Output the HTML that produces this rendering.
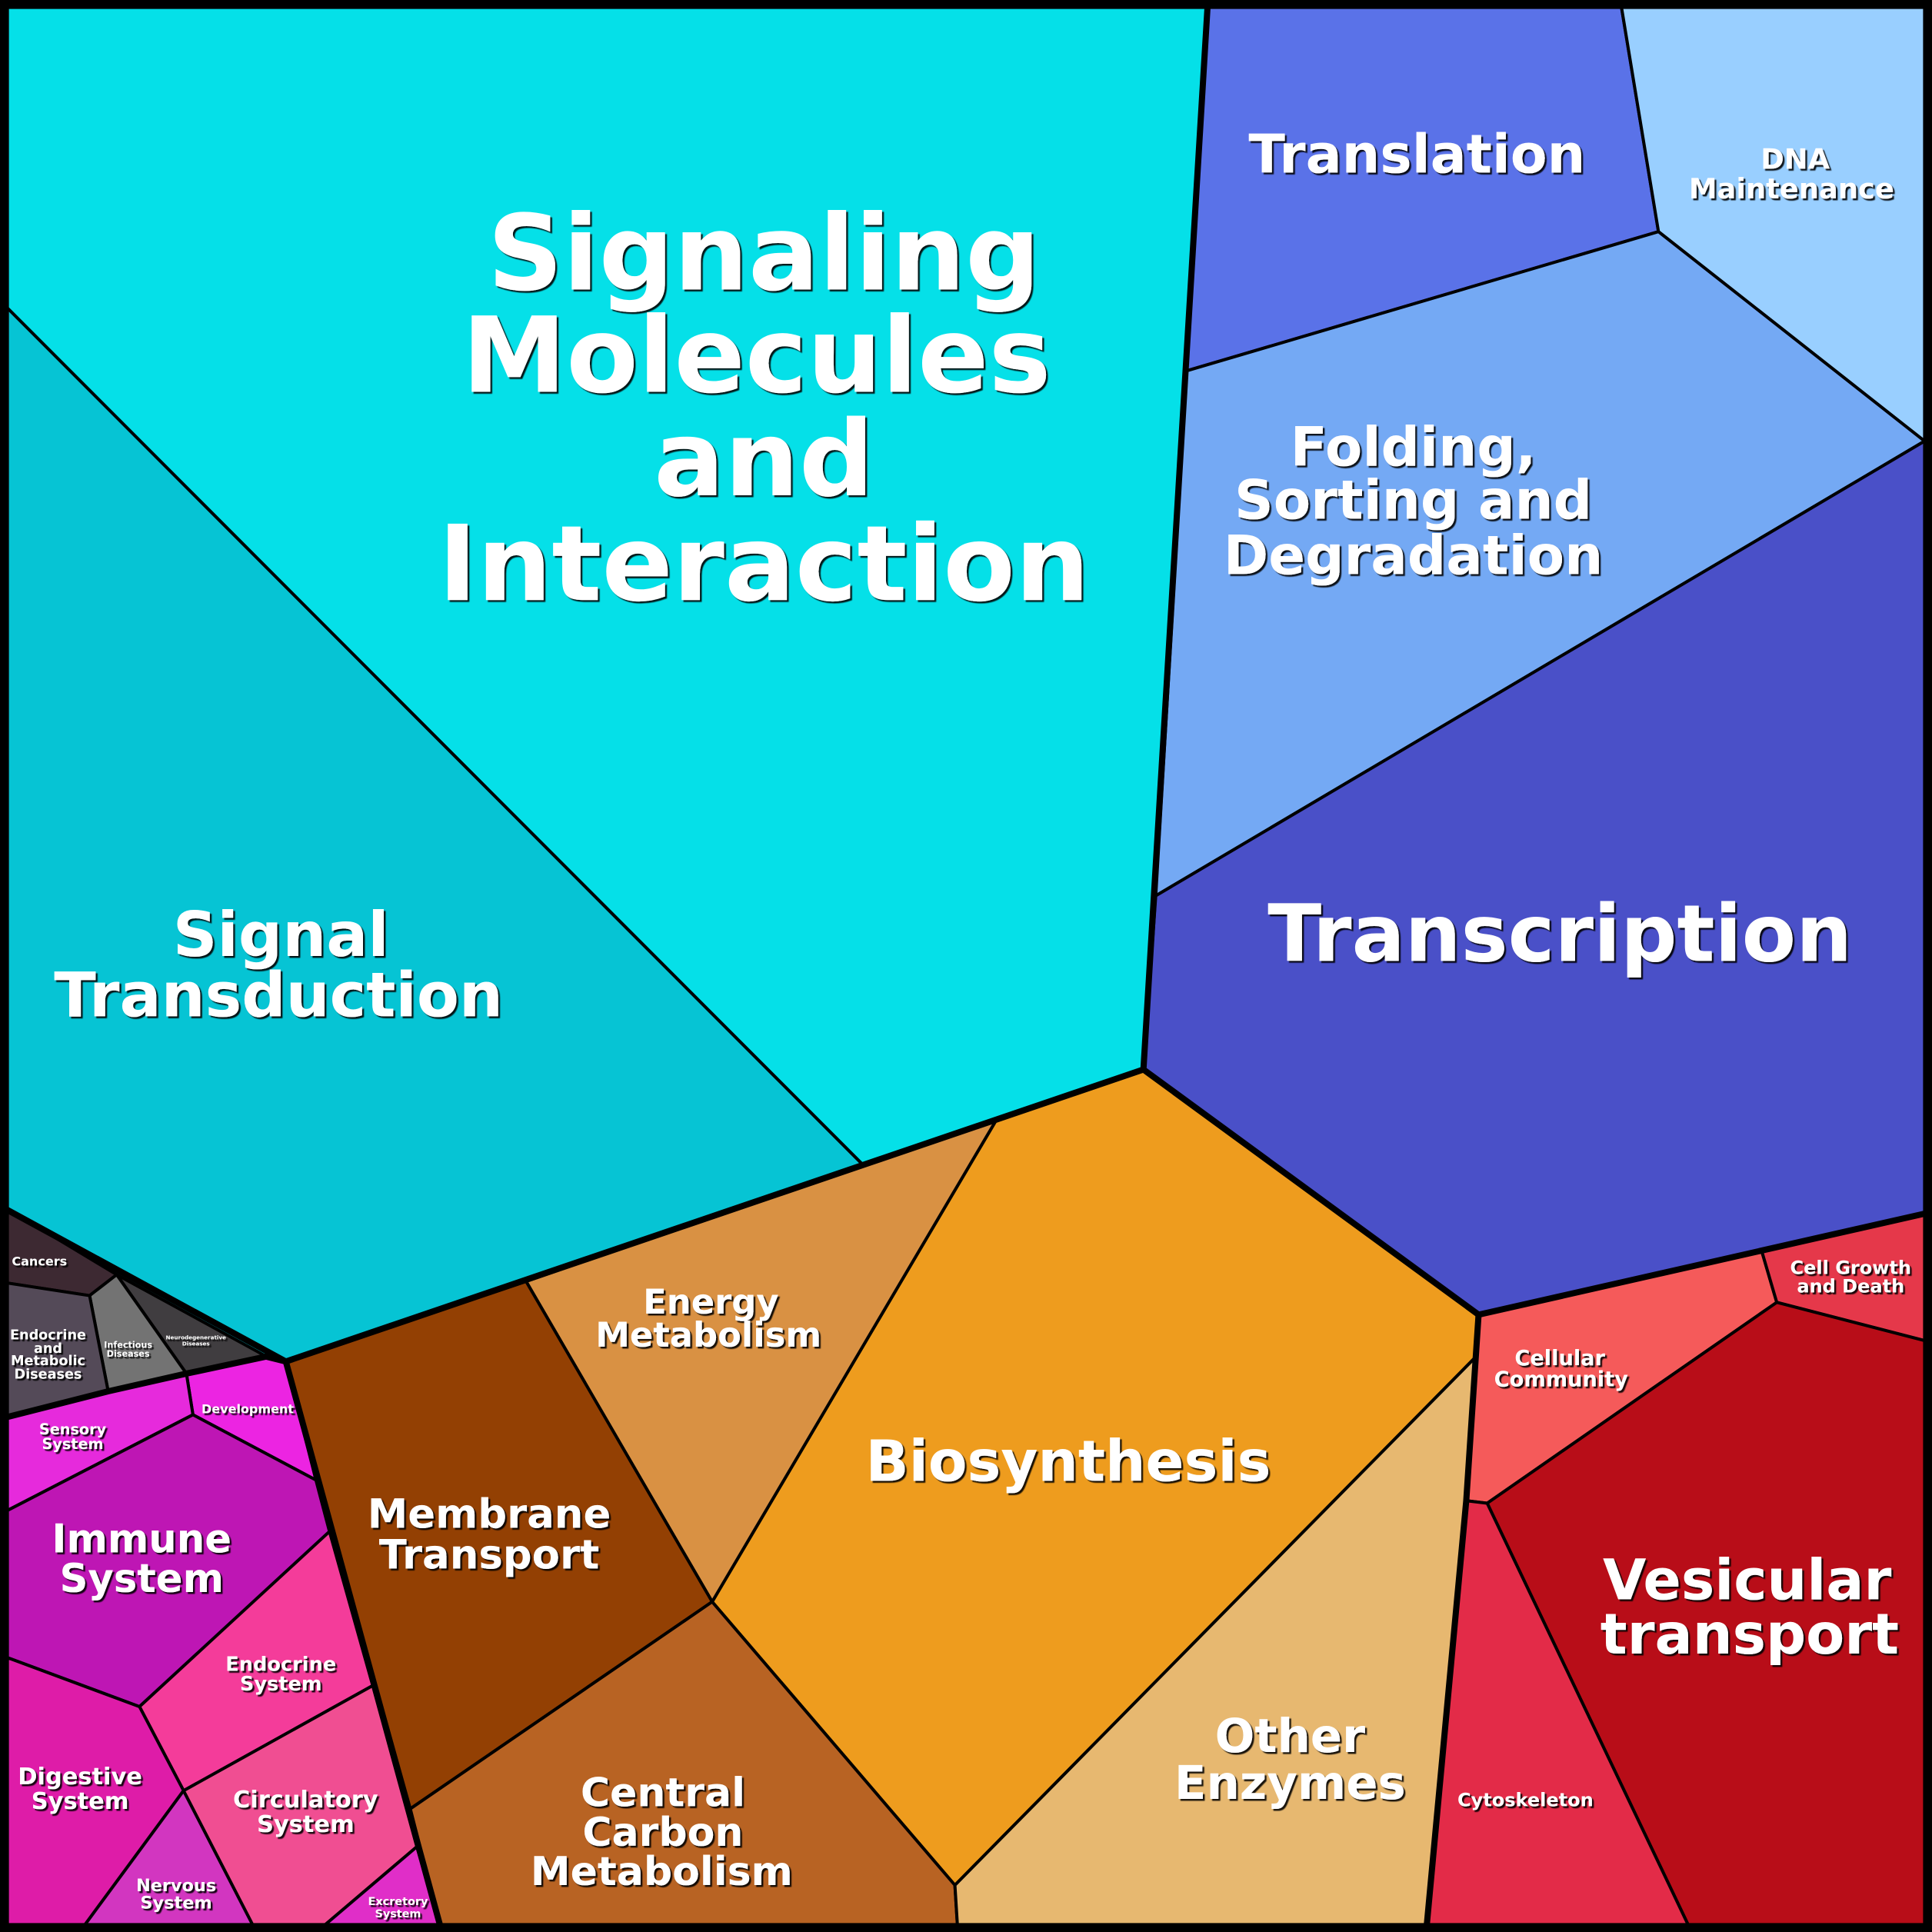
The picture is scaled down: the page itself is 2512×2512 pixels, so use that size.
<!DOCTYPE html>
<html><head><meta charset="utf-8"><style>html,body{margin:0;padding:0;background:#000}svg{display:block}text{font-family:"DejaVu Sans","Liberation Sans",sans-serif;font-weight:bold;fill:#fff;text-anchor:middle}</style></head>
<body>
<svg width="2512" height="2512" viewBox="0 0 1568 1568" xmlns="http://www.w3.org/2000/svg">
<defs><filter id="s" x="-10%" y="-10%" width="120%" height="130%"><feDropShadow dx="1.5" dy="1.5" stdDeviation="0.3" flood-color="#000" flood-opacity="0.9"/></filter></defs>
<rect width="1568" height="1568" fill="#000"/>
<g stroke="#000" stroke-width="2.5" stroke-linejoin="round">
<polygon fill="#05E0E8" points="6,6 980,6 928,868 808,910 700,945 6,250"/>
<polygon fill="#06C4D4" points="6,250 700,945 232,1105 216,1101 94.7,1034.5 6,982"/>
<polygon fill="#5A72E8" points="980,6 1316,6 1346,188 963,301"/>
<polygon fill="#99CFFF" points="1316,6 1562,6 1562,358 1346,188"/>
<polygon fill="#74A9F4" points="963,301 1346,188 1562,358 938,727"/>
<polygon fill="#4A50C8" points="938,727 1562,358 1562,985 1200,1067 928,868"/>
<polygon fill="#EE9C1E" points="928,868 1200,1067 1197,1102 775,1530 578,1300 808,910"/>
<polygon fill="#D99143" points="808,910 578,1300 427,1040 700,945"/>
<polygon fill="#934003" points="427,1040 578,1300 333,1468 258,1200 232,1105"/>
<polygon fill="#B86323" points="333,1468 578,1300 775,1530 777,1562 357,1562"/>
<polygon fill="#E7B870" points="775,1530 1197,1102 1190,1218 1158,1562 777,1562"/>
<polygon fill="#F55A5A" points="1200,1067 1430,1016 1442,1057 1207,1220 1190,1218"/>
<polygon fill="#E5384A" points="1430,1016 1562,985 1562,1088 1442,1057"/>
<polygon fill="#B80D18" points="1442,1057 1562,1088 1562,1562 1370,1562 1207,1220"/>
<polygon fill="#E32B48" points="1190,1218 1207,1220 1370,1562 1158,1562"/>
<polygon fill="#3D2932" points="6,981 94.7,1034.5 72.7,1051.5 6,1041.3"/>
<polygon fill="#403D40" points="94.7,1034.5 216,1100.8 151.3,1114.8"/>
<polygon fill="#737373" points="72.7,1051.5 94.7,1034.5 151.3,1114.8 87.8,1129.2"/>
<polygon fill="#544A58" points="6,1041.3 72.7,1051.5 87.8,1129.2 6,1150"/>
<polygon fill="#EC24E2" points="151.3,1114.8 216,1100.8 232,1104.6 256.4,1201.2 156.6,1148.2"/>
<polygon fill="#E62ADC" points="6,1150 87.8,1129.2 151.3,1114.8 156.6,1148.2 6,1225.9"/>
<polygon fill="#BE16B4" points="6,1225.9 156.6,1148.2 256.4,1201.2 267.4,1243 113.2,1385.1 6,1345.3"/>
<polygon fill="#F43C9A" points="113.2,1385.1 267.4,1243 302.5,1368 149,1453.3"/>
<polygon fill="#DE1CA8" points="6,1345.3 113.2,1385.1 149,1453.3 69,1562 6,1562"/>
<polygon fill="#D236C0" points="149,1453.3 205,1562 69,1562"/>
<polygon fill="#F04E92" points="149,1453.3 302.5,1368 338.3,1498.8 264,1562 205,1562"/>
<polygon fill="#E02EC8" points="338.3,1498.8 357,1562 264,1562"/>
</g>
<g stroke="#000" stroke-width="5" fill="none" stroke-linejoin="round">
<polyline points="980,6 928,868 1200,1067 1562,985"/>
<polyline points="1200,1067 1190,1218 1158,1562"/>
<polyline points="928,868 232,1105 357,1562"/>
<polyline points="6,982 232,1105"/>
<polyline points="6,1150 87.8,1129.2 151.3,1114.8 216,1101 232,1105"/>
<rect x="3" y="3" width="1562" height="1562" stroke-width="7"/>
</g>
<g filter="url(#s)">
<text font-size="85"><tspan x="620" y="235">Signaling</tspan><tspan x="614" y="318">Molecules</tspan><tspan x="620" y="402">and</tspan><tspan x="620" y="487">Interaction</tspan></text>
<text font-size="50"><tspan x="228" y="776">Signal</tspan><tspan x="226" y="825">Transduction</tspan></text>
<text font-size="43.5" x="1150" y="140">Translation</text>
<text font-size="23"><tspan x="1457" y="137">DNA</tspan><tspan x="1454" y="161">Maintenance</tspan></text>
<text font-size="44"><tspan x="1147" y="378">Folding,</tspan><tspan x="1147" y="421">Sorting and</tspan><tspan x="1147" y="466">Degradation</tspan></text>
<text font-size="64" x="1266" y="780">Transcription</text>
<text font-size="46" x="867" y="1202">Biosynthesis</text>
<text font-size="28"><tspan x="577" y="1066">Energy</tspan><tspan x="575" y="1093">Metabolism</tspan></text>
<text font-size="33"><tspan x="397" y="1240">Membrane</tspan><tspan x="397" y="1273">Transport</tspan></text>
<text font-size="32.5"><tspan x="538" y="1466">Central</tspan><tspan x="538" y="1498">Carbon</tspan><tspan x="537" y="1530">Metabolism</tspan></text>
<text font-size="38"><tspan x="1047" y="1422">Other</tspan><tspan x="1047" y="1460">Enzymes</tspan></text>
<text font-size="45.5"><tspan x="1418" y="1298">Vesicular</tspan><tspan x="1420" y="1342">transport</tspan></text>
<text font-size="17"><tspan x="1266" y="1108">Cellular</tspan><tspan x="1267" y="1125">Community</tspan></text>
<text font-size="15"><tspan x="1502" y="1034">Cell Growth</tspan><tspan x="1502" y="1049">and Death</tspan></text>
<text font-size="15" x="1238" y="1466">Cytoskeleton</text>
<text font-size="32"><tspan x="115" y="1260">Immune</tspan><tspan x="115" y="1292">System</tspan></text>
<text font-size="16"><tspan x="228" y="1356">Endocrine</tspan><tspan x="228" y="1372">System</tspan></text>
<text font-size="19"><tspan x="65" y="1448">Digestive</tspan><tspan x="65" y="1468">System</tspan></text>
<text font-size="19"><tspan x="248" y="1467">Circulatory</tspan><tspan x="248" y="1487">System</tspan></text>
<text font-size="14"><tspan x="143" y="1535">Nervous</tspan><tspan x="143" y="1549">System</tspan></text>
<text font-size="9"><tspan x="323" y="1546">Excretory</tspan><tspan x="323" y="1556">System</tspan></text>
<text font-size="12"><tspan x="59" y="1164">Sensory</tspan><tspan x="59" y="1176">System</tspan></text>
<text font-size="10" x="201" y="1147">Development</text>
<text font-size="10" x="32" y="1027">Cancers</text>
<text font-size="11"><tspan x="39" y="1087">Endocrine</tspan><tspan x="39" y="1098">and</tspan><tspan x="39" y="1108">Metabolic</tspan><tspan x="39" y="1119">Diseases</tspan></text>
<text font-size="7"><tspan x="104" y="1094">Infectious</tspan><tspan x="104" y="1101">Diseases</tspan></text>
<text font-size="4.5"><tspan x="159" y="1087">Neurodegenerative</tspan><tspan x="159" y="1092">Diseases</tspan></text>
</g>
</svg>
</body></html>
